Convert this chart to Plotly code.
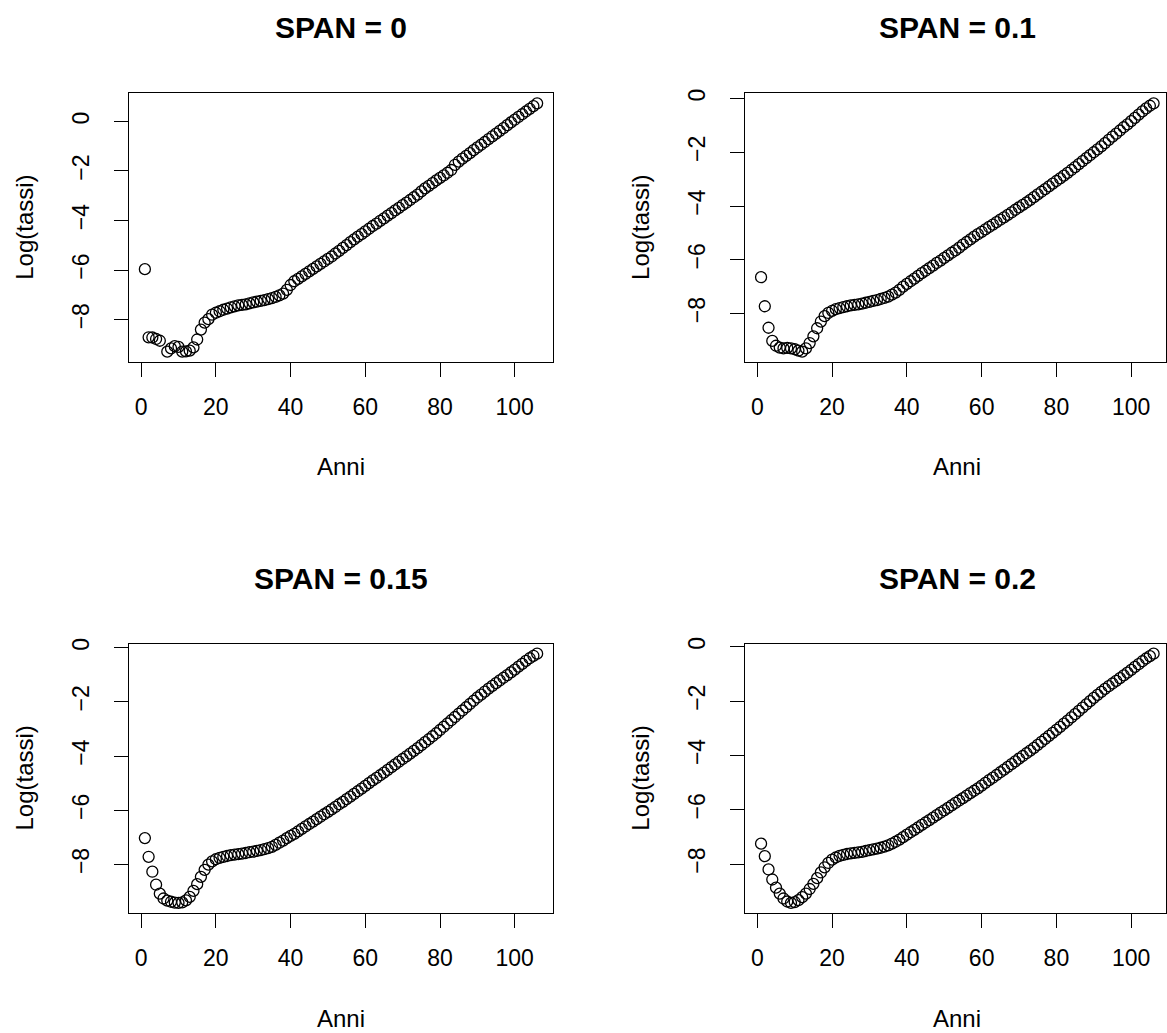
import plotly.graph_objects as go

W, H = 1167, 1033

ages = list(range(1, 107))
titles = ["SPAN = 0", "SPAN = 0.1", "SPAN = 0.15", "SPAN = 0.2"]
x_label = "Anni"
y_label = "Log(tassi)"
x_ticks = [0, 20, 40, 60, 80, 100]
y_ticks = [-8, -6, -4, -2, 0]

# SPAN = 0 (raw log rates; age 6 has no deaths -> not plotted)
log_span0 = [
    -5.96, -8.71, -8.72, -8.78, -8.85, None, -9.29, -9.16, -9.07, -9.10,
    -9.29, -9.28, -9.25, -9.12, -8.80, -8.40, -8.12, -7.98, -7.80, -7.72,
    -7.66, -7.60, -7.55, -7.50, -7.46, -7.42, -7.40, -7.38, -7.34, -7.30,
    -7.27, -7.24, -7.21, -7.17, -7.13, -7.08, -7.02, -6.95, -6.80, -6.60,
    -6.45, -6.35, -6.25, -6.15, -6.05, -5.95, -5.85, -5.75, -5.65, -5.55,
    -5.45, -5.33, -5.22, -5.10, -4.99, -4.87, -4.76, -4.65, -4.55, -4.44,
    -4.33, -4.22, -4.12, -4.01, -3.91, -3.80, -3.70, -3.59, -3.49, -3.38,
    -3.28, -3.17, -3.06, -2.95, -2.82, -2.70, -2.60, -2.49, -2.38, -2.28,
    -2.18, -2.07, -1.96, -1.75, -1.62, -1.50, -1.39, -1.28, -1.16, -1.05,
    -0.94, -0.83, -0.71, -0.60, -0.49, -0.38, -0.27, -0.15, -0.04, 0.07,
    0.18, 0.29, 0.40, 0.51, 0.62, 0.73,
]

log_span01 = [
    -6.65, -7.73, -8.53, -9.02, -9.20, -9.27, -9.30, -9.28, -9.30, -9.33,
    -9.38, -9.42, -9.30, -9.10, -8.85, -8.55, -8.30, -8.10, -7.98, -7.90,
    -7.84, -7.80, -7.76, -7.73, -7.70, -7.68, -7.66, -7.63, -7.60, -7.57,
    -7.53, -7.50, -7.46, -7.42, -7.37, -7.30, -7.22, -7.12, -7.00, -6.90,
    -6.80, -6.70, -6.60, -6.50, -6.41, -6.31, -6.22, -6.12, -6.03, -5.93,
    -5.84, -5.74, -5.65, -5.55, -5.44, -5.34, -5.24, -5.14, -5.05, -4.96,
    -4.87, -4.78, -4.69, -4.60, -4.51, -4.42, -4.33, -4.24, -4.14, -4.05,
    -3.96, -3.87, -3.77, -3.67, -3.57, -3.47, -3.37, -3.27, -3.17, -3.07,
    -2.97, -2.87, -2.77, -2.66, -2.55, -2.44, -2.33, -2.22, -2.11, -2.00,
    -1.89, -1.78, -1.66, -1.54, -1.42, -1.31, -1.19, -1.07, -0.96, -0.84,
    -0.72, -0.60, -0.48, -0.37, -0.27, -0.18,
]

log_span015 = [
    -7.03, -7.72, -8.27, -8.75, -9.08, -9.26, -9.34, -9.38, -9.41, -9.42,
    -9.40, -9.33, -9.20, -8.98, -8.73, -8.46, -8.20, -8.01, -7.89, -7.81,
    -7.76, -7.72, -7.69, -7.66, -7.64, -7.62, -7.60, -7.58, -7.55, -7.53,
    -7.50, -7.47, -7.44, -7.40, -7.35, -7.28, -7.20, -7.12, -7.03, -6.95,
    -6.87, -6.78, -6.69, -6.60, -6.51, -6.42, -6.33, -6.24, -6.15, -6.06,
    -5.97, -5.88, -5.78, -5.69, -5.59, -5.50, -5.40, -5.30, -5.20, -5.10,
    -5.00, -4.90, -4.81, -4.71, -4.61, -4.51, -4.41, -4.31, -4.21, -4.11,
    -4.01, -3.91, -3.81, -3.71, -3.60, -3.49, -3.38, -3.27, -3.16, -3.04,
    -2.92, -2.80, -2.68, -2.56, -2.44, -2.32, -2.20, -2.08, -1.96, -1.84,
    -1.73, -1.62, -1.51, -1.41, -1.31, -1.21, -1.11, -1.01, -0.91, -0.81,
    -0.70, -0.60, -0.49, -0.39, -0.30, -0.22,
]

log_span02 = [
    -7.25, -7.71, -8.20, -8.57, -8.87, -9.09, -9.27, -9.38, -9.43, -9.40,
    -9.33, -9.22, -9.09, -8.92, -8.73, -8.52, -8.31, -8.12, -7.96, -7.84,
    -7.76, -7.70, -7.66, -7.63, -7.61, -7.59, -7.57, -7.55, -7.52, -7.49,
    -7.46, -7.43, -7.40, -7.36, -7.31, -7.25, -7.18, -7.10, -7.01, -6.92,
    -6.83, -6.74, -6.65, -6.56, -6.47, -6.38, -6.29, -6.20, -6.11, -6.02,
    -5.93, -5.84, -5.75, -5.66, -5.57, -5.48, -5.39, -5.30, -5.21, -5.11,
    -5.01, -4.91, -4.82, -4.72, -4.62, -4.52, -4.42, -4.32, -4.22, -4.12,
    -4.02, -3.92, -3.82, -3.72, -3.61, -3.50, -3.39, -3.28, -3.17, -3.06,
    -2.95, -2.83, -2.72, -2.60, -2.48, -2.36, -2.24, -2.12, -2.00, -1.88,
    -1.77, -1.66, -1.55, -1.45, -1.35, -1.25, -1.15, -1.05, -0.95, -0.85,
    -0.74, -0.64, -0.53, -0.43, -0.34, -0.25,
]

series = [log_span0, log_span01, log_span015, log_span02]

# plot boxes in pixels: (left, right, top, bottom); right column is cut by the image edge
boxes = [
    (129.3, 553.3, 87, 357),
    (746.0, 1170.3, 87, 357),
    (129.3, 553.3, 641, 912),
    (746.0, 1170.3, 641, 912),
]

FONT = "Liberation Sans, Arial, Helvetica, sans-serif"
fig = go.Figure()
annotations = []

for i, (ys, (l, r, t, b), title) in enumerate(zip(series, boxes, titles)):
    n = i + 1
    xa = "x" if n == 1 else f"x{n}"
    ya = "y" if n == 1 else f"y{n}"
    fig.add_trace(go.Scatter(
        x=ages, y=ys, mode="markers", xaxis=xa, yaxis=ya,
        marker=dict(symbol="circle-open", size=11, color="black",
                    line=dict(width=1.3, color="black")),
        showlegend=False, hoverinfo="x+y",
    ))
    valid = [v for v in ys if v is not None]
    ymin, ymax = min(valid), max(valid)
    dy = ymax - ymin
    xmin, xmax = min(ages), max(ages)
    dx = xmax - xmin
    x0, x1 = xmin - 0.04 * dx, xmax + 0.04 * dx
    r_vis = min(r, W)
    x1_vis = x0 + (x1 - x0) * (r_vis - l) / (r - l)

    axis_common = dict(
        showgrid=False, zeroline=False, showline=True, linecolor="black",
        linewidth=1, mirror=True, ticks="outside", ticklen=14, tickwidth=1,
        tickcolor="black", tickfont=dict(family=FONT, size=23, color="black"),
    )
    fig.layout[f"xaxis{'' if n == 1 else n}"] = dict(
        axis_common, domain=[l / W, r_vis / W], range=[x0, x1_vis],
        tickmode="array", tickvals=x_ticks, anchor=ya, ticklabelstandoff=11,
    )
    fig.layout[f"yaxis{'' if n == 1 else n}"] = dict(
        axis_common, domain=[1 - b / H, 1 - t / H],
        range=[ymin - 0.04 * dy, ymax + 0.04 * dy],
        tickmode="array", tickvals=y_ticks, tickangle=-90, anchor=xa,
        ticklabelstandoff=16,
    )

    cx = (l + r) / 2
    cy = (t + b) / 2
    annotations.append(dict(
        text=f"<b>{title}</b>", x=cx / W, y=1 - (t - 66) / H, xref="paper",
        yref="paper", showarrow=False, xanchor="center", yanchor="middle",
        font=dict(family=FONT, size=30, color="black"),
    ))
    annotations.append(dict(
        text=x_label, x=cx / W, y=1 - (b + 106) / H, xref="paper",
        yref="paper", showarrow=False, xanchor="center", yanchor="middle",
        font=dict(family=FONT, size=24, color="black"),
    ))
    annotations.append(dict(
        text=y_label, x=(l - 105) / W, y=1 - cy / H, xref="paper",
        yref="paper", showarrow=False, xanchor="center", yanchor="middle",
        textangle=-90, font=dict(family=FONT, size=24, color="black"),
    ))

fig.update_layout(
    width=W, height=H, margin=dict(l=0, r=0, t=0, b=0),
    paper_bgcolor="white", plot_bgcolor="white",
    annotations=annotations, font=dict(family=FONT, color="black"),
)

fig.write_html("out.html")
